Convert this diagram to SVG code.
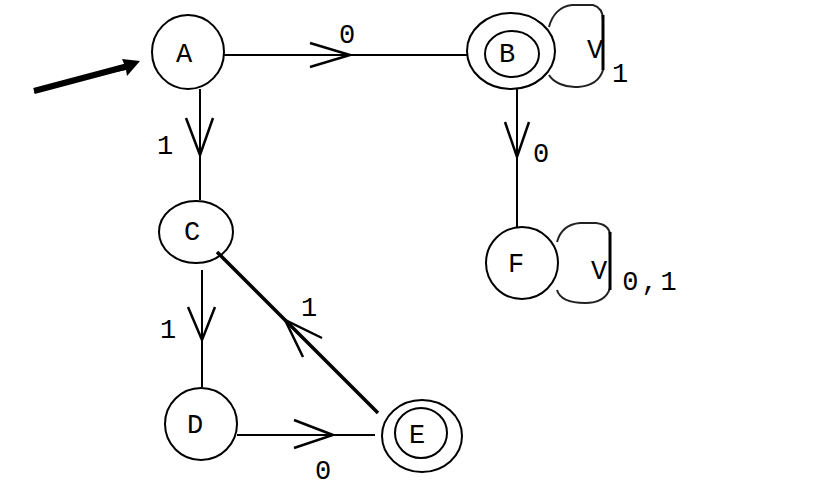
<svg xmlns="http://www.w3.org/2000/svg" width="837" height="490" viewBox="0 0 837 490">
<style>
.n{fill:none;stroke:#000;stroke-width:2}
.t{font-family:"Liberation Mono","Courier New",monospace;font-size:27px;fill:#000;text-anchor:middle}
.e{fill:none;stroke:#000;stroke-width:2}
.h{fill:none;stroke:#000;stroke-width:2.5}
.loop{fill:none;stroke:#222;stroke-width:2}
</style>
<rect width="837" height="490" fill="#fff"/>
<g id="edges">
  <polygon points="34,93 125,66 122,59 140,61 127,76 126,70 36,88" fill="#000"/>
  <line x1="34" y1="91" x2="128" y2="66" stroke="#000" stroke-width="6"/>
  <line class="e" x1="224" y1="55" x2="468" y2="55"/>
  <polyline class="h" points="310,43 350,55 310,67"/>
  <text class="t" x="347" y="43">0</text>
  <line class="e" x1="200" y1="89" x2="200" y2="200"/>
  <polyline class="h" points="186,118 200,155 213,118"/>
  <text class="t" x="165" y="154">1</text>
  <line class="e" x1="517" y1="89" x2="517" y2="228"/>
  <polyline class="h" points="505,122 517,157 529,122"/>
  <text class="t" x="541" y="162">0</text>
  <line class="e" x1="202" y1="270" x2="202" y2="387"/>
  <polyline class="h" points="188,307 202,340 215,307"/>
  <text class="t" x="168" y="338">1</text>
  <line class="e" x1="237" y1="435" x2="375" y2="435"/>
  <polyline class="h" points="294,420 333,435 294,448"/>
  <text class="t" x="323" y="479">0</text>
  <line x1="378" y1="413" x2="217" y2="252" stroke="#000" stroke-width="3.5"/>
  <polyline class="h" points="303,357 285,320 322,338"/>
  <text class="t" x="309" y="316">1</text>
  <path class="loop" d="M549,27 C552,15 560,6 572,5 L593,5 C600,7 603,12 603,20 L603,70 C600,80 592,86 578,87 C565,88 553,82 549,75"/>
  <line x1="603" y1="15" x2="603" y2="70" stroke="#000" stroke-width="3"/>
  <text class="t" x="595" y="58">V</text>
  <text class="t" x="620" y="82">1</text>
  <path class="loop" d="M557,242 C560,231 568,224 580,223 L596,223 C604,224 610,228 610,236 L610,288 C607,298 598,303 585,303 C572,303 560,300 557,290"/>
  <line x1="610" y1="232" x2="610" y2="290" stroke="#000" stroke-width="3"/>
  <text class="t" x="599" y="279">V</text>
  <text class="t" x="651" y="290" letter-spacing="3">0,1</text>
</g>
<g id="A"><ellipse class="n" cx="188" cy="52" rx="36" ry="37"/><text class="t" x="184" y="62">A</text></g>
<g id="B"><ellipse class="n" cx="511" cy="51" rx="44" ry="38"/><ellipse class="n" cx="512" cy="54" rx="27" ry="23"/><text class="t" x="507" y="62">B</text></g>
<g id="C"><ellipse class="n" cx="196" cy="232" rx="37" ry="31"/><text class="t" x="192" y="240">C</text></g>
<g id="D"><ellipse class="n" cx="201" cy="424" rx="36" ry="36"/><text class="t" x="195" y="433">D</text></g>
<g id="E"><ellipse class="n" cx="422" cy="436" rx="40" ry="36"/><ellipse class="n" cx="421" cy="433" rx="26" ry="25"/><text class="t" x="417" y="443">E</text></g>
<g id="F"><ellipse class="n" cx="522" cy="263" rx="36" ry="36"/><text class="t" x="516" y="272">F</text></g>
</svg>
